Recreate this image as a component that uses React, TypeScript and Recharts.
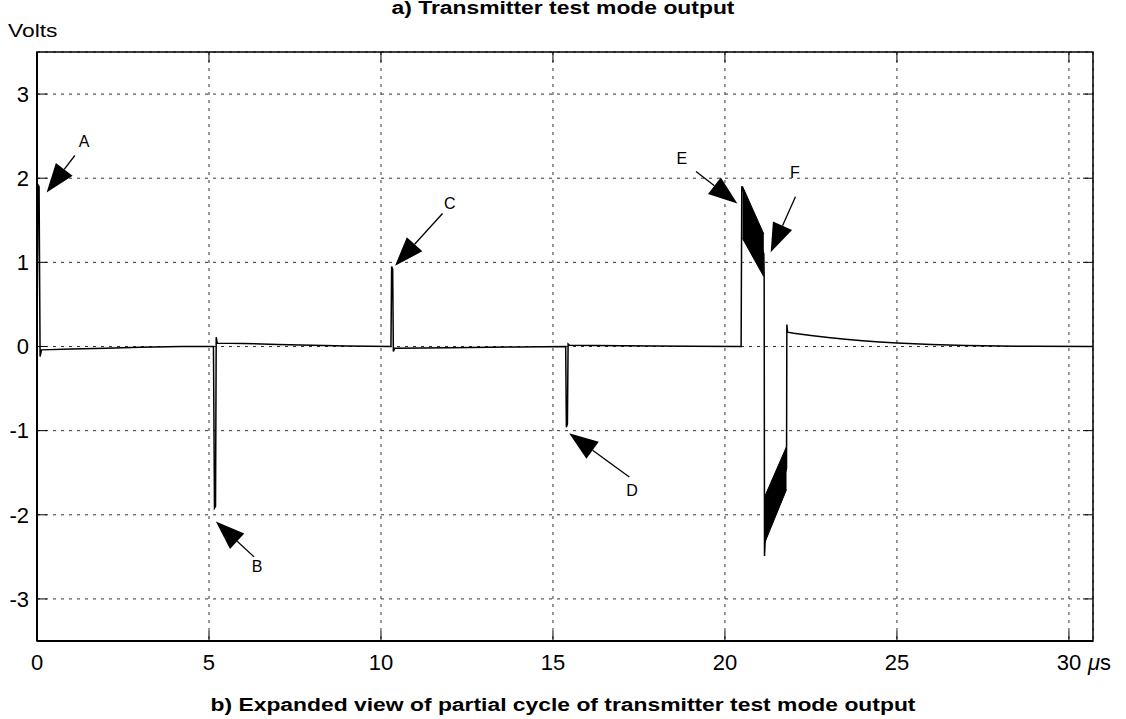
import {
  ComposedChart,
  Line,
  Area,
  XAxis,
  YAxis,
  CartesianGrid,
  ReferenceLine,
  ReferenceDot,
  ReferenceArea,
} from "recharts"

// trace samples, time in µs and volts
const traceTime = [
  0, 0.03, 0.06, 0.09, 0.13, 1, 2, 3, 4.2,
  5.13, 5.16, 5.19, 5.21, 5.24, 6, 7, 8, 9,
  10.29, 10.31, 10.34, 10.36, 10.4, 12, 14,
  15.37, 15.39, 15.42, 15.44, 15.48, 17, 19,
  20.47, 20.49, 20.51, 21.13, 21.14, 21.15, 21.17, 21.79, 21.8, 21.82,
  22, 22.5, 23, 23.5, 24, 24.5, 25, 25.5, 26, 27, 28, 29, 30.7,
]
const traceVolts = [
  0, 1.92, 1.9, -0.12, -0.04, -0.03, -0.02, -0.01, 0,
  0, -1.92, -1.9, 0.11, 0.04, 0.035, 0.025, 0.015, 0.005,
  0, 0.95, 0.92, -0.06, -0.02, -0.015, -0.005,
  0, -0.96, -0.92, 0.03, 0.015, 0.01, 0.003,
  0, 1.905, 1.88, 1.1, 0.83, -2.49, -2.3, -1.45, 0.26, 0.17,
  0.158, 0.132, 0.107, 0.086, 0.068, 0.054, 0.042, 0.032, 0.024, 0.013, 0.006, 0.002, 0,
]

// ringing envelopes (E and F)
const ringETime = [20.51, 21.13]
const ringELow = [1.285, 0.83]
const ringEHigh = [1.905, 1.336]
const ringFTime = [21.16, 21.79]
const ringFLow = [-2.33, -1.7]
const ringFHigh = [-1.78, -1.19]

const xTicks = [0, 5, 10, 15, 20, 25, 30]
const yTicks = [-3, -2, -1, 0, 1, 2, 3]
const xDomain = [0, 30.7]
const yDomain = [-3.5, 3.5]

// annotation arrows: tip, tail and letter position
const markLetters = ["A", "B", "C", "D", "E", "F"]
const markTip = [[0.28, 1.83], [5.2, -2.08], [10.41, 0.96], [15.47, -1.03], [20.36, 1.7], [21.33, 1.12]]
const markTail = [[1.1, 2.27], [6.31, -2.5], [11.79, 1.58], [17.22, -1.55], [19.16, 2.08], [22.05, 1.78]]
const markText = [[1.37, 2.44], [6.4, -2.61], [12.0, 1.7], [17.3, -1.71], [18.75, 2.24], [22.03, 2.07]]

const traceData = traceTime.map((t, i) => ({ t, v: traceVolts[i] }))
const ringEData = ringETime.map((t, i) => ({ t, range: [ringELow[i], ringEHigh[i]] }))
const ringFData = ringFTime.map((t, i) => ({ t, range: [ringFLow[i], ringFHigh[i]] }))

const FONT = "'Liberation Sans', Arial, Helvetica, sans-serif"
const TICK_DX = 0.29
const TICK_DY = 0.12

function Arrow(props: any) {
  const { x1, y1, x2, y2 } = props
  const dx = x2 - x1
  const dy = y2 - y1
  const len = Math.hypot(dx, dy) || 1
  const ux = dx / len
  const uy = dy / len
  const hl = Math.min(29, len)
  const hw = 10.5
  const bx = x2 - ux * hl
  const by = y2 - uy * hl
  return (
    <g>
      <line x1={x1} y1={y1} x2={bx} y2={by} stroke="#000" strokeWidth={1.3} />
      <polygon
        points={`${x2},${y2} ${bx - uy * hw},${by + ux * hw} ${bx + uy * hw},${by - ux * hw}`}
        fill="#000"
      />
    </g>
  )
}

function XTick(props: any) {
  const { x, y, payload } = props
  if (payload.value === 30) {
    return (
      <g fontFamily={FONT} fontSize={22} fill="#000">
        <text x={x} y={y} dy="0.75em" textAnchor="middle">30</text>
        <text x={x + 19} y={y} dy="0.75em" textAnchor="start">
          <tspan fontStyle="italic">μ</tspan>s
        </text>
      </g>
    )
  }
  return (
    <text x={x} y={y} dy="0.75em" textAnchor="middle" fontFamily={FONT} fontSize={22} fill="#000">
      {payload.value}
    </text>
  )
}

const titleStyle = {
  position: "absolute" as const,
  left: 0,
  width: 1126,
  textAlign: "center" as const,
  fontWeight: "bold",
  fontSize: 18,
  lineHeight: "18px",
  transform: "scaleX(1.27)",
  transformOrigin: "563px 0",
  whiteSpace: "nowrap" as const,
}

export default function App() {
  return (
    <div style={{ position: "absolute", left: 0, top: 0, width: 1126, height: 719, background: "#fff", fontFamily: FONT }}>
      <div style={{ ...titleStyle, top: -1 }}>a) Transmitter test mode output</div>
      <div style={{ position: "absolute", left: 8, top: 21, fontSize: 19, lineHeight: "19px", transform: "scaleX(1.2)", transformOrigin: "0 0" }}>
        Volts
      </div>
      <div style={{ ...titleStyle, top: 696 }}>
        b) Expanded view of partial cycle of transmitter test mode output
      </div>
      <ComposedChart width={1126} height={719} margin={{ top: 52, right: 33, left: 0, bottom: 0 }}>
        <CartesianGrid stroke="#333" strokeDasharray="3 5" />
        <XAxis
          dataKey="t"
          type="number"
          domain={xDomain}
          ticks={xTicks}
          allowDataOverflow
          height={78}
          tickSize={0}
          tickMargin={12}
          tick={<XTick />}
          axisLine={{ stroke: "#000", strokeWidth: 2 }}
        />
        <YAxis
          type="number"
          domain={yDomain}
          ticks={yTicks}
          allowDataOverflow
          width={37}
          tickSize={0}
          tickMargin={8}
          tick={{ fill: "#000", fontSize: 22, fontFamily: FONT }}
          axisLine={{ stroke: "#000", strokeWidth: 2 }}
        />
        <ReferenceArea x1={xDomain[0]} x2={xDomain[1]} y1={yDomain[0]} y2={yDomain[1]} fill="none" stroke="#000" strokeWidth={1.5} fillOpacity={0} />
        {xTicks.filter((v) => v > 0).map((v) => (
          <ReferenceLine key={`xb${v}`} segment={[{ x: v, y: yDomain[0] }, { x: v, y: yDomain[0] + TICK_DY }]} stroke="#000" />
        ))}
        {xTicks.filter((v) => v > 0).map((v) => (
          <ReferenceLine key={`xt${v}`} segment={[{ x: v, y: yDomain[1] }, { x: v, y: yDomain[1] - TICK_DY }]} stroke="#000" />
        ))}
        {yTicks.map((v) => (
          <ReferenceLine key={`yl${v}`} segment={[{ x: xDomain[0], y: v }, { x: xDomain[0] + TICK_DX, y: v }]} stroke="#000" />
        ))}
        {yTicks.map((v) => (
          <ReferenceLine key={`yr${v}`} segment={[{ x: xDomain[1], y: v }, { x: xDomain[1] - TICK_DX, y: v }]} stroke="#000" />
        ))}
        <Area data={ringEData} dataKey="range" type="linear" stroke="#000" strokeWidth={1} fill="#000" fillOpacity={1} isAnimationActive={false} />
        <Area data={ringFData} dataKey="range" type="linear" stroke="#000" strokeWidth={1} fill="#000" fillOpacity={1} isAnimationActive={false} />
        <Line data={traceData} dataKey="v" type="linear" stroke="#000" strokeWidth={1.5} dot={false} isAnimationActive={false} />
        {markLetters.map((m, i) => (
          <ReferenceLine
            key={`arrow${m}`}
            segment={[{ x: markTail[i][0], y: markTail[i][1] }, { x: markTip[i][0], y: markTip[i][1] }]}
            shape={<Arrow />}
          />
        ))}
        {markLetters.map((m, i) => (
          <ReferenceDot
            key={`label${m}`}
            x={markText[i][0]}
            y={markText[i][1]}
            r={0}
            shape={(p: any) => (
              <text x={p.cx} y={p.cy} textAnchor="middle" dominantBaseline="central" fontFamily={FONT} fontSize={16} fill="#000">
                {m}
              </text>
            )}
          />
        ))}
      </ComposedChart>
    </div>
  )
}
